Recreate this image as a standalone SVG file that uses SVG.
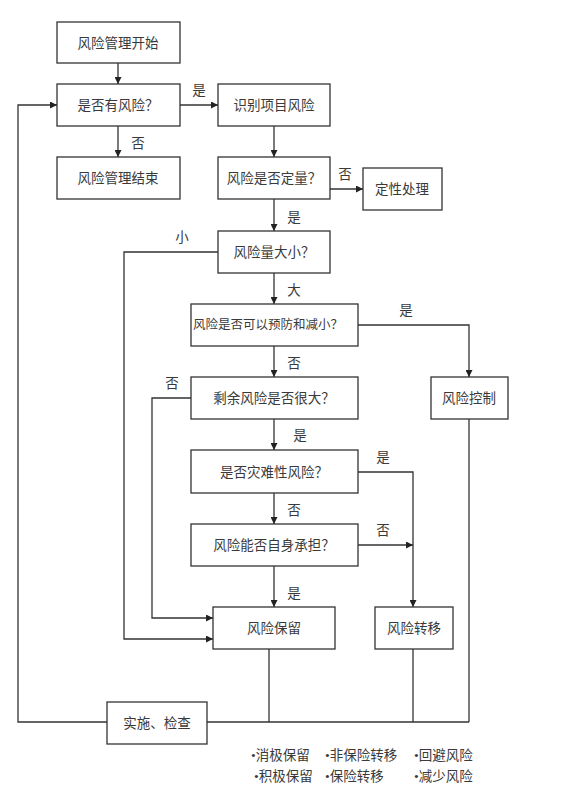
<svg xmlns="http://www.w3.org/2000/svg" width="587" height="803" viewBox="0 0 587 803">
<defs>
<marker id="ah" viewBox="0 0 10 10" refX="10" refY="5" markerWidth="7" markerHeight="7" markerUnits="userSpaceOnUse" orient="auto">
<path d="M0,0 L10,5 L0,10 z" fill="#222"/>
</marker>
<style>
rect{fill:#fff;stroke:#333;stroke-width:1.3}
text{font-family:"Liberation Serif","Noto Sans CJK SC",serif;font-size:13.5px;fill:#3a3a3a;text-anchor:middle;dominant-baseline:central}
.l{text-anchor:start}
.c line,.c polyline{fill:none;stroke:#333;stroke-width:1.3}
.a{marker-end:url(#ah)}
</style>
</defs>
<rect x="0" y="0" width="587" height="803" style="fill:#fff;stroke:none"/>
<g class="c" id="connectors">
<line class="a" x1="118" y1="63" x2="118" y2="84"/>
<line class="a" x1="180" y1="105" x2="218" y2="105"/>
<line class="a" x1="118" y1="126" x2="118" y2="157"/>
<line class="a" x1="274" y1="126" x2="274" y2="157"/>
<line class="a" x1="330" y1="189" x2="363" y2="189"/>
<line class="a" x1="274" y1="199" x2="274" y2="231"/>
<polyline class="a" points="218,252 124,252 124,639 213,639"/>
<line class="a" x1="274" y1="273" x2="274" y2="304"/>
<polyline class="a" points="358,325 469,325 469,377"/>
<line class="a" x1="274" y1="346" x2="274" y2="377"/>
<polyline class="a" points="191,398 152,398 152,618 213,618"/>
<line class="a" x1="274" y1="419" x2="274" y2="450"/>
<polyline class="a" points="358,472 413,472 413,607"/>
<line class="a" x1="274" y1="493" x2="274" y2="524"/>
<line class="a" x1="358" y1="545" x2="413" y2="545"/>
<line class="a" x1="274" y1="566" x2="274" y2="607"/>
<line x1="269" y1="649" x2="269" y2="722"/>
<line x1="413" y1="649" x2="413" y2="722"/>
<line x1="469" y1="419" x2="469" y2="722"/>
<line x1="207" y1="722" x2="469" y2="722"/>
<polyline class="a" points="107,722 18,722 18,105 57,105"/>
</g>
<g id="edge-labels">
<text x="199" y="90">是</text>
<text x="138" y="143">否</text>
<text x="345" y="174">否</text>
<text x="294" y="217">是</text>
<text x="182" y="237">小</text>
<text x="294" y="290">大</text>
<text x="406" y="310">是</text>
<text x="294" y="363">否</text>
<text x="172" y="383">否</text>
<text x="300" y="435">是</text>
<text x="383" y="457">是</text>
<text x="294" y="510">否</text>
<text x="383" y="530">否</text>
<text x="294" y="593">是</text>
</g>
<g id="n-start"><rect x="57" y="22" width="123" height="41"/><text x="118" y="43">风险管理开始</text></g>
<g id="n-hasrisk"><rect x="57" y="84" width="123" height="42"/><text x="118" y="105">是否有风险？</text></g>
<g id="n-identify"><rect x="218" y="84" width="112" height="42"/><text x="274" y="105">识别项目风险</text></g>
<g id="n-end"><rect x="57" y="157" width="123" height="42"/><text x="118" y="178">风险管理结束</text></g>
<g id="n-quant"><rect x="218" y="157" width="112" height="42"/><text x="274" y="178">风险是否定量？</text></g>
<g id="n-qual"><rect x="363" y="168" width="79" height="42"/><text x="402" y="189">定性处理</text></g>
<g id="n-size"><rect x="218" y="231" width="112" height="42"/><text x="274" y="252">风险量大小？</text></g>
<g id="n-prevent"><rect x="191" y="304" width="167" height="42"/><text x="268" y="325" style="font-size:12.5px">风险是否可以预防和减小？</text></g>
<g id="n-control"><rect x="431" y="377" width="77" height="42"/><text x="469" y="398">风险控制</text></g>
<g id="n-residual"><rect x="191" y="377" width="167" height="42"/><text x="274" y="398">剩余风险是否很大？</text></g>
<g id="n-catastrophe"><rect x="191" y="450" width="167" height="43"/><text x="274" y="472">是否灾难性风险？</text></g>
<g id="n-bear"><rect x="191" y="524" width="167" height="42"/><text x="274" y="545">风险能否自身承担？</text></g>
<g id="n-retain"><rect x="213" y="607" width="122" height="42"/><text x="274" y="628">风险保留</text></g>
<g id="n-transfer"><rect x="375" y="607" width="78" height="42"/><text x="414" y="628">风险转移</text></g>
<g id="n-implement"><rect x="107" y="702" width="100" height="42"/><text x="157" y="723">实施、检查</text></g>
<g id="notes">
<text class="l" x="251" y="755">•消极保留</text>
<text class="l" x="325" y="755">•非保险转移</text>
<text class="l" x="414" y="755">•回避风险</text>
<text class="l" x="254" y="776">•积极保留</text>
<text class="l" x="325" y="776">•保险转移</text>
<text class="l" x="414" y="776">•减少风险</text>
</g>
</svg>
